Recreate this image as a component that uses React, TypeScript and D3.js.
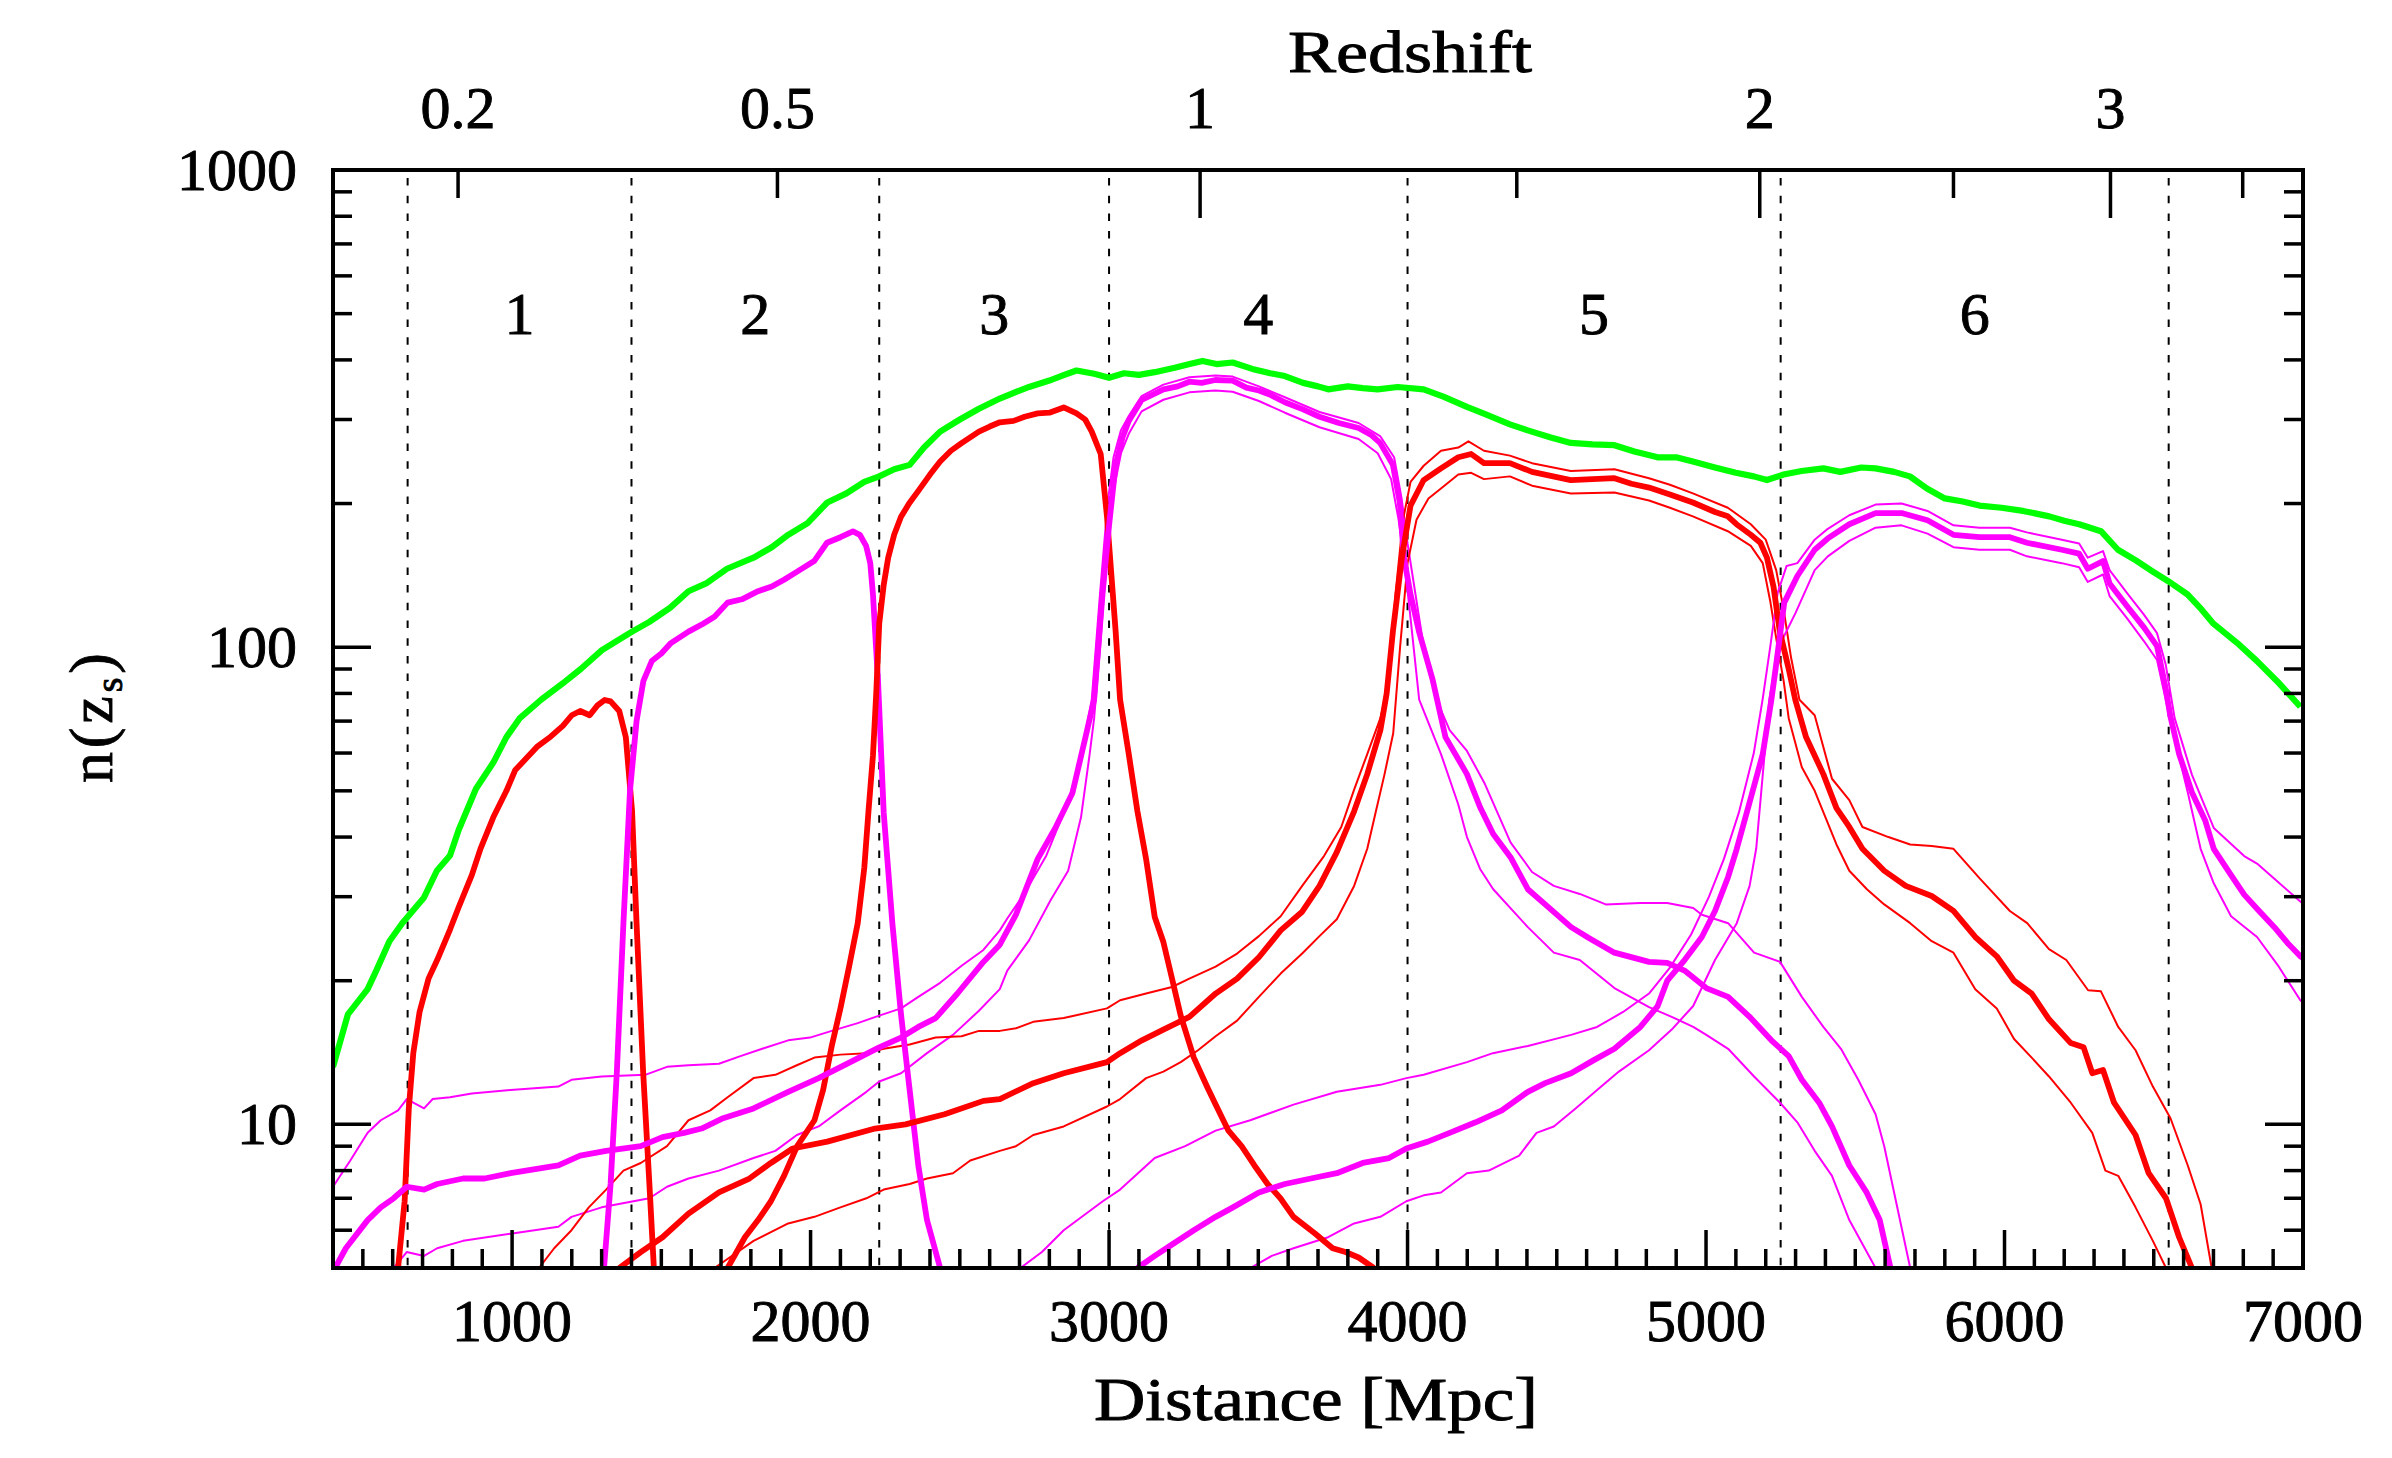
import React from "react";
import * as d3 from "d3";

type Pt = [number, number];

// total n(z) of all sources
const total: Pt[] = [
  [400, 13.2], [450, 17], [516, 19.2], [545, 21], [589, 24.2], [632, 26.4], [705, 29.9], [748, 34],
  [792, 36.6], [821, 41.4], [879, 50.5], [937, 57.3], [981, 64.8], [1025, 70.9], [1097, 77.6],
  [1170, 84], [1230, 90], [1301, 98.6], [1350, 103], [1402, 107.8], [1460, 113], [1530, 121],
  [1591, 131], [1650, 136], [1720, 146], [1809, 154], [1870, 162], [1925, 172], [1990, 182],
  [2056, 201], [2120, 210], [2180, 222], [2230, 228], [2280, 236], [2332, 241], [2380, 262],
  [2434, 283], [2500, 300], [2564, 316], [2634, 332], [2700, 345], [2732, 351], [2800, 362],
  [2850, 372], [2891, 380], [2950, 374], [3000, 367], [3050, 375], [3100, 372], [3153, 377],
  [3220, 385], [3270, 392], [3313, 398], [3360, 392], [3414, 395], [3480, 383], [3540, 375],
  [3589, 370], [3650, 358], [3700, 352], [3734, 347], [3800, 352], [3850, 349], [3900, 347],
  [3967, 351], [4054, 347], [4120, 335], [4199, 319], [4260, 308], [4343, 293], [4400, 285],
  [4480, 275], [4547, 268], [4620, 266], [4693, 265], [4760, 257], [4838, 250], [4900, 250],
  [4956, 245], [5030, 238], [5100, 232], [5160, 228], [5204, 224], [5260, 230], [5320, 234],
  [5393, 237], [5450, 233], [5520, 238], [5568, 237], [5630, 233], [5683, 228], [5740, 215],
  [5800, 205], [5860, 202], [5916, 198], [5990, 196], [6062, 193], [6150, 188], [6200, 184],
  [6250, 181], [6323, 175], [6380, 160], [6440, 152], [6497, 144], [6560, 136], [6613, 129],
  [6660, 120], [6700, 112], [6780, 102], [6846, 93.5], [6920, 84], [6991, 75],
];

const bin1: Pt[] = [
  [618, 5], [640, 6.9], [654, 10.8], [669, 14.1], [690, 17.2], [720, 20.2], [749, 22.1], [792, 25.6],
  [821, 28.5], [865, 33.3], [894, 37.8], [937, 44], [981, 50], [1010, 55.2], [1083, 61.8],
  [1130, 65], [1170, 68.4], [1200, 72], [1228, 73.5], [1260, 72], [1286, 75.5], [1310, 77.5],
  [1330, 77], [1359, 73.5], [1381, 64.8], [1402, 45.3], [1417, 26.4], [1439, 12.9], [1460, 7.5],
  [1475, 5],
];

const bin2: Pt[] = [
  [1308, 5], [1330, 7.5], [1351, 12.9], [1373, 26.4], [1395, 50], [1417, 70], [1440, 85],
  [1468, 93.5], [1500, 97], [1532, 102], [1591, 107.8], [1640, 112], [1678, 115.8], [1722, 124],
  [1770, 126], [1824, 131], [1870, 134], [1911, 138.5], [1955, 144], [2012, 151.5], [2055, 165.5],
  [2100, 170], [2142, 174.8], [2165, 172], [2186, 163], [2200, 150], [2209, 129], [2226, 85],
  [2245, 45], [2274, 26.4], [2303, 17], [2332, 11.8], [2361, 8.2], [2390, 6.3], [2434, 5],
];

const bin3: Pt[] = [
  [1722, 5], [1780, 5.8], [1824, 6.3], [1867, 6.9], [1911, 7.8], [1955, 9], [2013, 10.2],
  [2042, 11.8], [2071, 14.6], [2100, 17.5], [2129, 21.4], [2158, 26.4], [2180, 34.5], [2194, 45.3],
  [2209, 59.3], [2220, 80], [2230, 112], [2245, 135], [2260, 154], [2280, 172], [2303, 187.6],
  [2330, 200], [2361, 212.6], [2400, 230], [2434, 245], [2470, 258], [2507, 268], [2564, 283],
  [2600, 290], [2634, 296], [2680, 298], [2717, 304], [2761, 309], [2800, 310], [2848, 318],
  [2891, 309], [2920, 300], [2942, 283], [2972, 254], [2993, 188], [3022, 108], [3037, 77.6],
  [3066, 59.7], [3095, 45.3], [3124, 36], [3153, 27.2], [3182, 24.1], [3211, 20.2], [3240, 16.9],
  [3284, 13.8], [3328, 12], [3357, 11], [3400, 9.7], [3444, 9], [3487, 8.2], [3531, 7.5],
  [3574, 7], [3618, 6.4], [3691, 5.9], [3749, 5.5], [3792, 5.4], [3836, 5.26], [3887, 5],
];

const bin4: Pt[] = [
  [407, 5], [443, 5.5], [516, 6.3], [560, 6.7], [603, 7], [647, 7.4], [705, 7.3], [749, 7.5],
  [836, 7.7], [908, 7.7], [995, 7.9], [1155, 8.2], [1228, 8.6], [1315, 8.8], [1431, 9], [1504, 9.4],
  [1576, 9.6], [1635, 9.8], [1707, 10.3], [1809, 10.8], [1925, 11.7], [2027, 12.5], [2143, 13.6],
  [2230, 14.5], [2303, 15.2], [2361, 16], [2419, 16.7], [2492, 18.8], [2579, 21.9], [2634, 23.8],
  [2688, 27.5], [2761, 36], [2819, 41.7], [2877, 49.4], [2921, 64.8], [2950, 77.6], [2978, 129],
  [3000, 180], [3022, 241], [3045, 275], [3066, 298], [3109, 329.6], [3182, 347], [3230, 352],
  [3269, 360], [3310, 358], [3356, 363], [3414, 362], [3460, 350], [3502, 345], [3540, 338],
  [3589, 326], [3650, 315], [3705, 304], [3770, 295], [3836, 288], [3880, 278], [3908, 268],
  [3951, 241], [3974, 201], [3988, 154], [4010, 129], [4038, 108], [4083, 86], [4127, 64.8],
  [4199, 54.2], [4243, 46.2], [4287, 40.6], [4345, 36.3], [4403, 31.1], [4461, 28.9], [4548, 25.9],
  [4606, 24.6], [4693, 22.9], [4809, 21.9], [4870, 21.8], [4928, 21], [5001, 19.3], [5074, 18.5],
  [5146, 16.8], [5219, 15], [5277, 13.9], [5321, 12.4], [5379, 11.1], [5422, 9.9], [5480, 8.2],
  [5538, 7.2], [5582, 6.3], [5618, 5],
];

const bin4Hi: Pt[] = [
  [400, 7.4], [458, 8.4], [516, 9.6], [560, 10.2], [618, 10.7], [647, 11.3], [705, 10.8],
  [734, 11.3], [792, 11.4], [865, 11.6], [995, 11.8], [1155, 12], [1199, 12.4], [1300, 12.6],
  [1446, 12.7], [1519, 13.2], [1591, 13.3], [1693, 13.4], [1765, 13.9], [1838, 14.4], [1925, 15],
  [1998, 15.2], [2071, 15.7], [2158, 16.3], [2230, 16.9], [2303, 17.5], [2361, 18.5], [2434, 19.8],
  [2506, 21.5], [2579, 23.2], [2634, 25.5], [2659, 27], [2717, 30.5], [2790, 36.6], [2863, 47.4],
  [2906, 59], [2942, 77.6], [2970, 130], [2995, 200], [3015, 250], [3040, 285], [3066, 305],
  [3109, 336], [3182, 355], [3269, 368], [3356, 371], [3414, 369], [3502, 352], [3589, 334],
  [3705, 311], [3836, 295], [3908, 277], [3955, 250], [3980, 205], [4000, 165], [4030, 125],
  [4060, 95], [4097, 77.6], [4141, 67], [4199, 60.6], [4257, 52], [4345, 39], [4417, 33.8],
  [4490, 31.6], [4577, 30.4], [4664, 28.9], [4780, 29.1], [4870, 29.1], [4957, 28.4], [4986, 27.5],
  [5074, 26.4], [5161, 22.9], [5248, 21.9], [5321, 18.5], [5393, 16], [5452, 14.4], [5510, 12.4],
  [5568, 10.5], [5597, 9], [5684, 5],
];

const bin4Lo: Pt[] = [
  [603, 5], [647, 5.4], [705, 5.3], [749, 5.5], [836, 5.7], [995, 5.9], [1155, 6.1], [1199, 6.4],
  [1300, 6.7], [1460, 7], [1519, 7.4], [1591, 7.7], [1693, 8], [1809, 8.5], [1882, 8.8], [1954, 9.5],
  [2027, 9.9], [2100, 10.7], [2187, 11.7], [2230, 12.3], [2303, 12.8], [2390, 14.1], [2477, 15.4],
  [2564, 17.3], [2634, 19.2], [2659, 21], [2732, 24.3], [2804, 29.5], [2863, 34], [2906, 44],
  [2935, 59.7], [2950, 71], [2970, 100], [2990, 150], [3010, 205], [3040, 255], [3066, 280],
  [3109, 312], [3182, 330], [3269, 342], [3356, 345], [3414, 343], [3502, 328], [3589, 310],
  [3705, 289], [3836, 273], [3900, 255], [3945, 225], [3970, 185], [3990, 150], [4010, 115],
  [4039, 77.6], [4112, 59.7], [4170, 46.8], [4199, 40], [4243, 34.3], [4287, 31.1], [4403, 25.9],
  [4490, 22.9], [4577, 22.1], [4693, 19.3], [4809, 17.6], [4885, 16.8], [4957, 16], [5001, 15.4],
  [5074, 14.4], [5161, 12.6], [5248, 11.1], [5306, 10.1], [5364, 8.8], [5422, 7.8], [5480, 6.3],
  [5568, 5],
];

const bin5: Pt[] = [
  [1359, 5], [1431, 5.4], [1504, 5.8], [1591, 6.5], [1693, 7.2], [1795, 7.7], [1867, 8.3],
  [1940, 8.9], [2056, 9.2], [2216, 9.8], [2318, 10], [2449, 10.5], [2579, 11.2], [2634, 11.3],
  [2746, 12.2], [2848, 12.8], [2993, 13.5], [3037, 14.1], [3110, 15], [3182, 15.8], [3269, 16.8],
  [3357, 18.8], [3429, 20.2], [3502, 22.4], [3575, 25.5], [3647, 27.9], [3705, 31.6], [3763, 37.2],
  [3821, 45.3], [3865, 54.2], [3909, 67], [3930, 80], [3951, 108], [3981, 154], [4010, 198],
  [4054, 224], [4112, 237], [4170, 250], [4213, 254], [4256, 243], [4343, 243], [4417, 233],
  [4547, 224], [4693, 226], [4750, 220], [4809, 216], [4879, 209], [4956, 201], [5030, 192],
  [5073, 188], [5102, 181], [5150, 172], [5182, 165.5], [5204, 154], [5226, 134], [5247, 108],
  [5277, 90], [5299, 77.6], [5335, 64.8], [5393, 54.2], [5437, 46], [5480, 42], [5524, 37.8],
  [5597, 34], [5669, 31.6], [5756, 30.1], [5829, 28], [5902, 24.7], [5974, 22.5], [6032, 20],
  [6091, 18.8], [6149, 16.6], [6222, 14.8], [6265, 14.5], [6294, 12.8], [6330, 13], [6367, 11.1],
  [6439, 9.5], [6483, 7.9], [6541, 7], [6585, 5.8], [6628, 5],
];

const bin5Hi: Pt[] = [
  [1090, 5], [1141, 5.5], [1199, 6], [1257, 6.7], [1315, 7.3], [1373, 8], [1431, 8.3], [1519, 9],
  [1591, 10.2], [1664, 10.7], [1722, 11.4], [1809, 12.5], [1882, 12.7], [1954, 13.3], [2013, 13.8],
  [2100, 14], [2187, 14.1], [2245, 14.4], [2332, 14.7], [2419, 15.2], [2506, 15.3], [2564, 15.7],
  [2634, 15.7], [2688, 15.9], [2746, 16.4], [2848, 16.7], [2993, 17.5], [3037, 18.2], [3124, 18.8],
  [3211, 19.4], [3269, 20.2], [3357, 21.4], [3429, 22.8], [3502, 24.8], [3575, 27.3], [3647, 31.6],
  [3720, 36.5], [3778, 42], [3821, 50.3], [3865, 59.7], [3909, 71], [3938, 85], [3960, 130],
  [3985, 185], [4010, 222], [4054, 240], [4112, 258], [4170, 262], [4204, 270], [4256, 258],
  [4343, 252], [4417, 243], [4547, 234], [4693, 236], [4809, 226], [4879, 219], [4956, 210],
  [5073, 196], [5150, 181], [5200, 168], [5235, 145], [5260, 120], [5285, 95], [5313, 77.6],
  [5364, 72], [5422, 53], [5480, 47.8], [5524, 42], [5611, 40], [5684, 38.6], [5756, 38.3],
  [5829, 37.8], [5916, 32.8], [6018, 28], [6076, 26.4], [6149, 23.3], [6207, 22.1], [6280, 19.1],
  [6323, 19], [6381, 16], [6439, 14.3], [6497, 12], [6556, 10.3], [6614, 8.2], [6657, 6.8],
  [6694, 5],
];

const bin5Lo: Pt[] = [
  [1678, 5], [1809, 5.7], [1925, 6.2], [2013, 6.4], [2100, 6.7], [2187, 7], [2245, 7.3],
  [2332, 7.5], [2390, 7.7], [2477, 7.9], [2535, 8.4], [2634, 8.8], [2688, 9], [2746, 9.5],
  [2848, 9.9], [2993, 10.9], [3037, 11.3], [3124, 12.5], [3182, 12.9], [3240, 13.5], [3298, 14.3],
  [3357, 15.3], [3429, 16.5], [3502, 18.5], [3575, 20.7], [3647, 22.8], [3705, 24.8], [3763, 26.9],
  [3821, 31.6], [3865, 37.8], [3894, 45.3], [3923, 54.2], [3952, 66], [3975, 100], [4000, 150],
  [4030, 185], [4070, 205], [4112, 215], [4170, 230], [4213, 232], [4256, 225], [4343, 228],
  [4417, 218], [4547, 210], [4693, 211], [4809, 203], [4879, 196], [4956, 188], [5073, 175],
  [5150, 163], [5190, 150], [5215, 125], [5240, 100], [5260, 85], [5277, 71], [5321, 56],
  [5364, 50], [5437, 38.6], [5480, 34], [5539, 31.1], [5597, 28.9], [5684, 26.4], [5756, 24.2],
  [5829, 22.9], [5902, 19.2], [5974, 17.5], [6032, 15.1], [6091, 13.8], [6149, 12.6], [6222, 11.1],
  [6294, 9.6], [6338, 8], [6381, 7.8], [6439, 6.7], [6497, 5.7], [6541, 5],
];

const bin6: Pt[] = [
  [3095, 5], [3153, 5.3], [3211, 5.6], [3284, 6], [3357, 6.4], [3415, 6.7], [3502, 7.2], [3589, 7.5],
  [3676, 7.7], [3763, 7.9], [3850, 8.3], [3938, 8.5], [3996, 8.9], [4068, 9.2], [4141, 9.6],
  [4228, 10.1], [4316, 10.7], [4403, 11.7], [4461, 12.2], [4548, 12.8], [4621, 13.6], [4693, 14.4],
  [4780, 16], [4838, 17.7], [4870, 20], [4928, 22.1], [4986, 24.7], [5030, 28], [5074, 33],
  [5103, 37.8], [5146, 47.3], [5190, 59.7], [5219, 77.6], [5233, 90], [5262, 124], [5306, 141],
  [5364, 160], [5408, 169], [5480, 181], [5568, 191], [5655, 191], [5742, 184.5], [5829, 172],
  [5916, 170], [6018, 170], [6075, 165.5], [6192, 160], [6250, 157], [6279, 146], [6330, 151.5],
  [6352, 136], [6410, 122], [6467, 110], [6511, 100.5], [6540, 82], [6555, 72], [6585, 59.7],
  [6628, 49.6], [6672, 43.4], [6701, 37.8], [6759, 33.3], [6803, 30.3], [6846, 28.3], [6904, 25.9],
  [6948, 24], [6991, 22.5], [7000, 22.3],
];

const bin6Hi: Pt[] = [
  [2703, 5], [2775, 5.4], [2848, 6], [2979, 6.9], [3037, 7.3], [3153, 8.5], [3255, 9], [3357, 9.7],
  [3473, 10.2], [3618, 11], [3763, 11.7], [3909, 12.1], [3996, 12.5], [4054, 12.7], [4199, 13.5],
  [4286, 14.1], [4403, 14.6], [4548, 15.4], [4635, 16], [4722, 17.2], [4809, 18.8], [4879, 21.3],
  [4950, 25], [5010, 30], [5060, 36], [5110, 45], [5160, 60], [5190, 78], [5215, 100], [5240, 130],
  [5270, 148], [5306, 150], [5364, 168], [5408, 177], [5480, 189], [5568, 199], [5655, 200],
  [5742, 193], [5829, 180], [5916, 178], [6018, 178], [6075, 174], [6192, 168], [6250, 165],
  [6279, 154], [6330, 159], [6352, 145], [6410, 130], [6467, 117], [6511, 107], [6540, 92],
  [6570, 71], [6628, 54], [6701, 41.8], [6803, 36.5], [6846, 35.2], [6904, 32.7], [6991, 29.3],
  [7000, 29],
];

const bin6Lo: Pt[] = [
  [3473, 5], [3545, 5.3], [3618, 5.5], [3734, 5.8], [3821, 6.2], [3909, 6.4], [3996, 6.9],
  [4054, 7.1], [4112, 7.2], [4199, 7.9], [4272, 8], [4374, 8.6], [4432, 9.6], [4490, 9.9],
  [4563, 10.8], [4635, 11.8], [4708, 12.9], [4809, 14.3], [4885, 15.8], [4957, 17.7], [5030, 22.1],
  [5103, 26.4], [5146, 31.6], [5168, 37.8], [5190, 54], [5212, 77.6], [5230, 90], [5260, 105],
  [5300, 118], [5364, 145], [5408, 155], [5480, 167], [5568, 178], [5655, 180], [5742, 173],
  [5829, 162], [5916, 160], [6018, 160], [6075, 155], [6192, 150], [6250, 147], [6279, 137],
  [6330, 142], [6352, 128], [6410, 115], [6467, 103], [6511, 94], [6556, 70], [6614, 49.6],
  [6657, 37.8], [6701, 32], [6759, 27.3], [6846, 24.7], [6919, 21.4], [6991, 18.2], [7000, 18],
];

const binEdges = [650, 1400, 2230, 3000, 4000, 5250, 6550];
const binNames = ["1", "2", "3", "4", "5", "6"];
const binLabelLevel = 500;
const xTickLabels = [1000, 2000, 3000, 4000, 5000, 6000, 7000];
const yTickLabels = [10, 100, 1000];
const redshiftTicks = [
  { dist: 819, label: "0.2", long: false },
  { dist: 1889, label: "0.5", long: false },
  { dist: 3305, label: "1", long: true },
  { dist: 4366, label: "", long: false },
  { dist: 5180, label: "2", long: true },
  { dist: 5829, label: "", long: false },
  { dist: 6355, label: "3", long: true },
  { dist: 6798, label: "", long: false },
];

const RED = "#ff0000";
const MAGENTA = "#ff00ff";
const GREEN = "#00ff00";

const thinLines = [
  { data: bin4Hi, color: MAGENTA },
  { data: bin4Lo, color: MAGENTA },
  { data: bin5Hi, color: RED },
  { data: bin5Lo, color: RED },
  { data: bin6Hi, color: MAGENTA },
  { data: bin6Lo, color: MAGENTA },
];
const thickLines = [
  { data: bin1, color: RED },
  { data: bin2, color: MAGENTA },
  { data: bin3, color: RED },
  { data: bin4, color: MAGENTA },
  { data: bin5, color: RED },
  { data: bin6, color: MAGENTA },
];

const W = 2392;
const H = 1458;
const box = { left: 333, right: 2303, top: 170, bottom: 1268 };
const FONT = "'Liberation Serif', 'DejaVu Serif', serif";

export default function App() {
  const x = d3.scaleLinear().domain([400, 7000]).range([box.left, box.right]);
  const y = d3.scaleLog().domain([5, 1000]).range([box.bottom, box.top]);
  const line = d3
    .line<Pt>()
    .x((d) => x(d[0]))
    .y((d) => y(d[1]));

  const yTicks = y.ticks();
  const xMinor = x.ticks(66);

  // text gets a hairline outline so it reads as heavy as the plotted font
  const textStyle = { stroke: "#000", strokeWidth: 0.9 };

  return (
    <svg
      width={W}
      height={H}
      style={{ position: "absolute", left: 0, top: 0, background: "#fff" }}
      fontFamily={FONT}
    >
      <defs>
        <clipPath id="plot">
          <rect x={box.left} y={box.top} width={box.right - box.left} height={box.bottom - box.top} />
        </clipPath>
      </defs>
      <rect width={W} height={H} fill="#fff" />

      {/* bin edges */}
      {binEdges.map((d) => (
        <line
          key={d}
          x1={x(d)}
          x2={x(d)}
          y1={box.top}
          y2={box.bottom}
          stroke="#000"
          strokeWidth={2}
          strokeDasharray="7.5 10.2"
          strokeDashoffset={-8}
        />
      ))}

      <g clipPath="url(#plot)" fill="none" strokeLinejoin="round">
        <path d={line(total) ?? ""} stroke={GREEN} strokeWidth={6.2} />
        {thinLines.map((s, i) => (
          <path key={"t" + i} d={line(s.data) ?? ""} stroke={s.color} strokeWidth={2} />
        ))}
        {thickLines.map((s, i) => (
          <path key={"k" + i} d={line(s.data) ?? ""} stroke={s.color} strokeWidth={5.8} />
        ))}
      </g>

      <g style={textStyle}>
        {/* bin numbers */}
        {binNames.map((name, i) => (
          <text
            key={name}
            x={x((binEdges[i] + binEdges[i + 1]) / 2)}
            y={y(binLabelLevel) + 20}
            fontSize={60}
            textAnchor="middle"
          >
            {name}
          </text>
        ))}

        {yTickLabels.map((v) => (
          <text key={"yl" + v} x={297} y={y(v) + 20} fontSize={60} textAnchor="end">
            {v}
          </text>
        ))}

        {xTickLabels.map((d) => (
          <text key={"xl" + d} x={x(d)} y={1341} fontSize={60} textAnchor="middle">
            {d}
          </text>
        ))}

        {redshiftTicks
          .filter((t) => t.label)
          .map((t) => (
            <text key={"zl" + t.dist} x={x(t.dist)} y={128} fontSize={60} textAnchor="middle">
              {t.label}
            </text>
          ))}

        {/* axis titles */}
        <text x={1410} y={72} fontSize={60} textAnchor="middle" textLength={244} lengthAdjust="spacingAndGlyphs">
          Redshift
        </text>
        <text x={1316} y={1420} fontSize={62} textAnchor="middle" textLength={444} lengthAdjust="spacingAndGlyphs">
          Distance [Mpc]
        </text>
        <text
          transform="translate(112,718) rotate(-90)"
          fontSize={62}
          textAnchor="middle"
          textLength={130}
          lengthAdjust="spacing"
        >
          n(z
          <tspan fontSize={38} dy={10}>
            s
          </tspan>
          <tspan dy={-10}>)</tspan>
        </text>
      </g>

      {/* frame */}
      <rect
        x={box.left}
        y={box.top}
        width={box.right - box.left}
        height={box.bottom - box.top}
        fill="none"
        stroke="#000"
        strokeWidth={4}
      />

      {/* y ticks, both sides */}
      {yTicks.map((v) => {
        const major = yTickLabels.includes(v);
        const len = major ? 38 : 19;
        return (
          <g key={"y" + v} stroke="#000" strokeWidth={3.5}>
            <line x1={box.left} x2={box.left + len} y1={y(v)} y2={y(v)} />
            <line x1={box.right} x2={box.right - len} y1={y(v)} y2={y(v)} />
          </g>
        );
      })}

      {/* distance ticks on bottom */}
      {xMinor.map((d) => {
        const major = xTickLabels.includes(d);
        const len = major ? 38 : 19;
        return (
          <line
            key={"x" + d}
            x1={x(d)}
            x2={x(d)}
            y1={box.bottom}
            y2={box.bottom - len}
            stroke="#000"
            strokeWidth={3.5}
          />
        );
      })}

      {/* redshift ticks on top */}
      {redshiftTicks.map((t) => (
        <line
          key={"z" + t.dist}
          x1={x(t.dist)}
          x2={x(t.dist)}
          y1={box.top}
          y2={box.top + (t.long ? 48 : 28)}
          stroke="#000"
          strokeWidth={3.5}
        />
      ))}
    </svg>
  );
}
